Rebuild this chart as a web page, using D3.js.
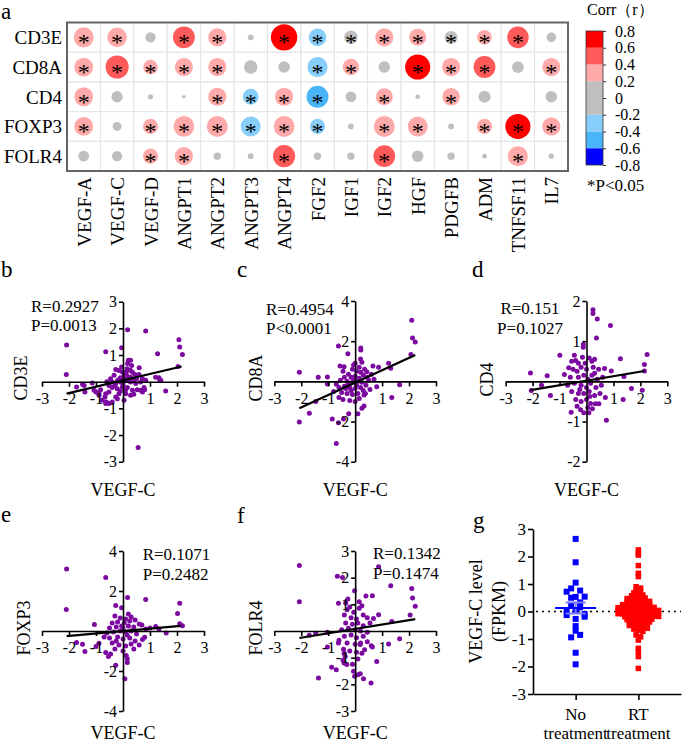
<!DOCTYPE html>
<html lang="en">
<head>
<meta charset="UTF-8">
<title>VEGF-C correlation figure</title>
<style>
  body { margin: 0; background: #fff; }
  svg text { font-family: "Liberation Serif", "Times New Roman", serif; fill: #000; }
  .ax path, .ax line { stroke: #000; stroke-width: 1.6px; }
  .ax text { font-size: 16px; font-family: "Liberation Serif", serif; }
  .leg path { stroke: none; }
  .leg line { stroke: #333; }
  .leg text { font-size: 16px; font-family: "Liberation Serif", serif; }
</style>
<script src="https://cdn.jsdelivr.net/npm/d3@7"></script>
</head>
<body>
<script>
// ---------- panel a : correlation dot-heatmap ----------
const genes = ["VEGF-A","VEGF-C","VEGF-D","ANGPT1","ANGPT2","ANGPT3","ANGPT4","FGF2","IGF1","IGF2","HGF","PDGFB","ADM","TNFSF11","IL7"];
const markers = ["CD3E","CD8A","CD4","FOXP3","FOLR4"];
const rCD3E  = [0.30, 0.2927, 0.134, 0.42, 0.27, 0.05, 0.70, -0.26, 0.19, 0.27, 0.25, 0.18, 0.21, 0.40, 0.12];
const rCD8A  = [0.28, 0.4954, 0.21, 0.27, 0.27, 0.19, 0.155, -0.31, 0.24, 0.155, 0.62, 0.27, 0.42, 0.16, 0.27];
const rCD4   = [0.28, 0.151, 0.04, 0.01, 0.27, -0.23, 0.27, -0.42, 0.14, 0.25, 0.03, 0.26, 0.165, 0.0, 0.155];
const rFOXP3 = [0.28, 0.1071, 0.22, 0.35, 0.36, -0.30, 0.36, -0.22, 0.05, 0.36, 0.30, 0.05, 0.22, 0.62, 0.27];
const rFOLR4 = [0.14, 0.1342, 0.22, 0.27, 0.08, 0.05, 0.43, 0.08, 0.08, 0.41, 0.155, 0.08, 0.03, 0.30, 0.04];
const sCD3E  = [1,1,0,1,1,0,1,1,1,1,1,1,1,1,0];
const sCD8A  = [1,1,1,1,1,0,0,1,1,0,1,1,1,0,1];
const sCD4   = [1,0,0,0,1,1,1,1,0,1,0,1,0,0,0];
const sFOXP3 = [1,0,1,1,1,1,1,1,0,1,1,0,1,1,1];
const sFOLR4 = [0,0,1,1,0,0,1,0,0,1,0,0,0,1,0];
const corrRows = [rCD3E, rCD8A, rCD4, rFOXP3, rFOLR4];
const sigRows = [sCD3E, sCD8A, sCD4, sFOXP3, sFOLR4];
const legendTicks = [-0.8,-0.6,-0.4,-0.2,0,0.2,0.4,0.6,0.8];
const bandColors = ["#0000ff","#4ab4f8","#87cefa","#bfbfbf","#bfbfbf","#ffaaaa","#ff5a5a","#ff0000"];

// ---------- panels b-f : VEGF-C vs marker (x, y) ----------
const ptsCD3E = [[-2.09,1.38],[-2.1,0.27],[0.17,1.95],[0.84,1.9],[2.07,1.57],[2.1,1.3],[2.2,1.02],[1.28,1.05],[2.04,0.57],[-0.05,1.27],[-0.64,1.12],[0.56,-2.47],[-1.72,-0.2],[-1.5,-0.1],[-1.41,-0.39],[-1.0,-0.39],[-0.89,-0.42],[-0.67,-0.57],[-0.62,-0.76],[-0.52,-0.82],[0.4,-0.47],[0.72,-0.39],[0.8,-0.3],[1.58,-0.35],[1.21,0.17],[1.36,0.07],[0.6,0.52],
  [0.2,0.8],[0.28,0.8],[0.17,0.68],[0.32,0.61],[0.15,0.49],[0.27,0.43],[-0.27,0.46],[-0.15,0.42],[-0.02,0.36],[-0.33,0.24],[0.04,0.24],[0.16,0.2],[0.28,0.17],[0.44,0.27],[0.59,0.27],[0.72,0.11],[-0.46,0.11],[-0.4,-0.01],[-0.52,-0.14],[-0.27,-0.07],[-0.09,-0.01],[0.1,0.05],[0.28,-0.01],[0.47,-0.07],[0.65,-0.01],[0.84,0.05],[-0.4,-0.22],[-0.21,-0.26],[-0.02,-0.2],[0.16,-0.22],[0.35,-0.32],[0.53,-0.3],[-0.52,-0.39],[-0.15,-0.45],[0.1,-0.45],[0.28,-0.51],[-0.21,-0.64],[0.04,-0.7],[-1.44,-0.14],[-1.14,-0.05],[-1.07,-0.32],[-0.83,-0.3],[-0.89,-0.51],[-0.64,-0.45],[-0.77,-0.7],[-0.64,-0.82],[-0.4,-0.76],[-0.27,-0.57],[0.65,-0.32],[0.78,-0.22],[1.33,0.15],[1.4,0.05],[-0.1,0.15],[0.05,0.1],[-0.2,0.05],[0.2,0.05],[0.0,-0.1],[-0.3,-0.15],[0.4,0.05],[0.1,-0.3],[-0.1,-0.35],[0.35,0.35],[-0.05,0.55],[0.5,0.12],[-0.6,0.0],[0.12,0.35]];
const ptsCD8A = [[2.1,3.04],[2.13,2.16],[2.23,1.96],[2.07,1.34],[-2.07,0.45],[-2.07,-2.02],[-1.7,-1.59],[-1.46,-1.0],[-1.37,0.2],[-1.03,0.22],[-1.03,-0.13],[-0.85,-1.88],[-0.7,-3.09],[-0.62,1.76],[-0.27,1.38],[0.21,1.66],[0.21,1.56],[-0.62,-2.06],[-0.43,-1.88],[-0.24,-1.61],[0.1,-1.61],[0.25,-1.34],[0.33,-1.23],[1.36,-0.8],[1.65,-0.17],[1.24,0.9],[1.32,0.65],[0.87,0.7],[0.66,0.76],[0.43,0.48],[0.8,-0.27],[0.33,-0.68],[0.38,-0.6],[-0.56,0.76],[-0.41,0.73],[-0.06,0.81],[0.2,1.11],
  [-0.1,0.6],[0.05,0.5],[0.2,0.45],[0.3,0.3],[-0.25,0.35],[-0.4,0.2],[-0.15,0.2],[0.0,0.25],[0.15,0.15],[0.45,0.2],[0.6,0.35],[-0.55,0.05],[-0.3,0.0],[-0.1,-0.05],[0.1,0.0],[0.25,-0.05],[0.5,0.05],[-0.6,-0.3],[-0.4,-0.25],[-0.2,-0.3],[0.0,-0.35],[0.2,-0.3],[0.4,-0.2],[-0.5,-0.55],[-0.3,-0.6],[-0.1,-0.65],[0.1,-0.6],[0.3,-0.45],[-0.45,-0.9],[-0.2,-0.95],[0.0,-1.0],[-0.6,-0.8],[0.15,-0.85],[-0.7,-0.15],[0.7,0.1],[-0.05,0.05],[-0.25,-0.15],[0.35,0.6],[-0.45,0.5],[0.05,-0.2],[-0.15,-0.45],[0.55,-0.4],[0.15,0.7],[-0.35,-0.35],[0.25,0.95],[-0.8,-0.5],[0.0,0.9]];
const ptsCD4 = [[0.24,1.78],[0.24,1.69],[0.4,1.55],[0.89,1.39],[0.37,1.08],[-0.12,0.92],[-0.12,0.85],[-0.99,0.65],[1.26,0.56],[2.25,0.67],[2.15,0.42],[2.15,0.26],[-2.08,0.21],[-2.05,-0.23],[-1.67,-0.1],[-1.46,0.14],[-1.34,-0.35],[-0.82,0.17],[-0.66,0.34],[2.07,-0.22],[1.67,-0.18],[1.36,-0.45],[1.39,0.12],[0.74,-0.97],[-0.57,-0.77],[-0.22,-0.71],[-0.1,-0.78],[0.09,-0.78],[0.33,-0.56],[0.46,-0.56],[0.67,0.32],[0.92,0.26],
  [-0.55,0.5],[-0.4,0.52],[-0.3,0.45],[0.1,0.58],[0.2,0.5],[0.3,0.55],[-0.5,0.3],[-0.35,0.25],[-0.2,0.35],[0.0,0.3],[0.25,0.35],[0.45,0.3],[-0.6,0.1],[-0.3,0.1],[-0.1,0.15],[0.05,0.05],[0.2,0.15],[0.4,0.05],[0.6,0.1],[-0.45,-0.05],[-0.2,-0.1],[0.0,-0.15],[0.15,-0.05],[0.35,-0.15],[0.55,-0.1],[-0.55,-0.25],[-0.3,-0.3],[-0.1,-0.3],[0.1,-0.25],[0.3,-0.35],[0.5,-0.3],[-0.4,-0.45],[-0.2,-0.5],[0.0,-0.45],[0.15,-0.55],[-0.35,-0.62],[0.05,-0.65],[0.22,-0.68],[-0.05,0.45],[-0.15,0.6],[0.12,-0.38],[-0.25,-0.2],[0.7,-0.4],[-0.7,-0.1],[0.3,0.2],[-0.45,0.65]];
const ptsFOXP3 = [[-2.09,3.1],[-2.1,1.08],[-0.64,2.68],[0.17,1.68],[0.84,1.57],[2.1,1.39],[2.02,0.87],[2.1,0.36],[2.2,0.26],[-1.06,0.32],[-1.72,-0.58],[-1.5,-0.66],[-1.41,-1.03],[-1.0,-0.78],[-0.89,-0.61],[-0.64,-1.07],[-0.54,-1.28],[-0.46,-1.15],[-0.27,-1.71],[0.16,-1.39],[0.16,-1.58],[0.12,-1.23],[0.07,-2.39],[0.4,-0.9],[0.72,-0.42],[0.8,-0.31],[1.21,0.23],[1.33,0.1],[1.6,-0.1],[-0.27,1.28],[-0.05,1.16],[-0.3,0.75],
  [0.2,0.85],[0.3,0.7],[0.1,0.6],[-0.1,0.65],[-0.4,0.4],[-0.2,0.45],[0.05,0.4],[0.25,0.5],[0.45,0.55],[0.6,0.35],[-0.5,0.15],[-0.25,0.2],[0.0,0.15],[0.2,0.25],[0.4,0.2],[0.7,0.3],[-0.6,-0.1],[-0.35,-0.05],[-0.1,0.0],[0.1,-0.05],[0.3,0.0],[0.5,-0.15],[-0.5,-0.35],[-0.2,-0.3],[0.0,-0.4],[0.25,-0.35],[0.45,-0.5],[-0.4,-0.6],[-0.15,-0.7],[0.1,-0.75],[0.3,-0.65],[-0.3,-0.9],[0.0,-1.0],[0.6,-0.7],[-0.7,-0.3],[0.85,0.1],[1.0,0.15],[-0.05,0.25],[0.15,-0.2],[-0.25,-0.5]];
const ptsFOLR4 = [[-2.07,2.46],[-2.07,1.1],[-0.66,2.05],[-0.47,2.01],[0.87,2.41],[1.32,1.7],[2.1,1.59],[2.13,1.24],[2.23,0.93],[2.04,0.6],[1.36,0.36],[-0.02,1.51],[-0.62,1.04],[-0.27,1.2],[0.4,1.31],[0.64,1.32],[0.68,0.47],[0.87,0.61],[-1.7,-0.16],[-1.46,-0.08],[-1.03,-0.05],[-1.03,-0.6],[-1.36,-1.76],[-0.87,-1.36],[-0.7,-1.45],[-0.41,-1.2],[-0.31,-1.26],[-0.06,-1.51],[-0.02,-1.7],[0.1,-1.64],[0.19,-1.6],[0.31,-1.79],[0.59,-1.95],[0.8,-1.14],[0.64,-0.6],[1.24,-0.49],[1.65,-0.29],[-0.62,-0.45],[-0.6,-0.35],[-0.43,-0.68],[-0.41,-0.83],[-0.37,-0.95],[0.19,-0.51],[0.25,-0.83],
  [-0.3,0.8],[-0.2,0.9],[-0.05,0.7],[0.15,0.85],[0.25,0.95],[-0.4,0.6],[-0.15,0.5],[0.05,0.45],[0.3,0.6],[0.45,0.5],[-0.35,0.3],[-0.1,0.25],[0.1,0.3],[0.3,0.2],[0.55,0.3],[-0.5,0.05],[-0.25,0.1],[0.0,0.05],[0.2,0.0],[0.45,-0.05],[-0.4,-0.2],[-0.15,-0.15],[0.05,-0.25],[0.3,-0.2],[-0.3,-0.45],[0.0,-0.5],[0.2,-0.45],[0.45,-0.4],[-0.2,-0.75],[0.05,-0.8],[0.35,-0.7],[-0.45,-1.1],[0.1,-1.05],[-0.1,-1.25],[0.15,1.1],[-0.35,1.05],[0.6,-0.55]];

// ---------- panel g : VEGF-C level by group ----------
const groups = ["No treatment", "RT treatment"];
const vegfNo = [2.64,1.79,1.05,0.84,0.76,0.72,0.53,0.54,0.5,0.33,0.24,0.15,0.05,0.03,-0.13,-0.09,-0.27,-0.19,-0.53,-0.7,-0.94,-0.85,-1.5,-1.92];
const vegfRT = [2.24,2.12,2.05,1.67,1.39,1.27,0.9,0.85,0.78,-0.85,-0.92,-1.04,-1.34,-1.46,-1.64,-2.07,
  0.72,0.68,0.63,0.6,0.57,0.53,0.51,0.49,0.47,0.44,0.42,0.4,0.39,0.37,0.34,0.33,0.31,0.3,0.28,0.27,
  0.25,0.23,0.22,0.21,0.2,0.18,0.17,0.15,0.14,0.13,0.12,0.11,0.1,0.09,0.07,0.06,
  0.05,0.04,0.03,0.02,0.01,0.0,-0.01,-0.02,-0.03,-0.04,-0.06,-0.07,-0.08,-0.09,-0.1,-0.11,-0.12,-0.13,-0.14,
  -0.16,-0.17,-0.18,-0.19,-0.2,-0.22,-0.23,-0.25,-0.27,-0.28,-0.3,-0.31,-0.32,-0.34,-0.35,
  -0.38,-0.4,-0.42,-0.44,-0.46,-0.49,-0.51,-0.53,-0.55,-0.58,-0.61,-0.64,-0.68,-0.72];

const svg = d3.select("body").append("svg").attr("width", 685).attr("height", 742);

function letter(t, x, y) {
  svg.append("text").text(t).attr("x", x).attr("y", y).style("font-size", "23px");
}

// ===== panel a =====
const hx = d3.scaleBand().domain(genes).range([67, 568]);
const hy = d3.scaleBand().domain(markers).range([22.5, 171]);
const color = d3.scaleThreshold().domain([-0.6,-0.4,-0.2,0.2,0.4,0.6])
  .range(["#0000ff","#4ab4f8","#87cefa","#bfbfbf","#ffaaaa","#ff5a5a","#ff0000"]);
const rad = d3.scaleLinear().domain([0, 0.2, 0.3, 0.8]).range([1.5, 7, 10, 14]).clamp(true);

const cells = [];
markers.forEach((m, i) => genes.forEach((g, j) =>
  cells.push({ m, g, r: corrRows[i][j], s: sigRows[i][j] })));

const ha = svg.append("g");
ha.selectAll("rect.cell").data(cells).join("rect").attr("class", "cell")
  .attr("x", d => hx(d.g)).attr("y", d => hy(d.m))
  .attr("width", hx.bandwidth()).attr("height", hy.bandwidth())
  .attr("fill", "none").attr("stroke", "#e6e6e6").attr("stroke-width", 1);
ha.selectAll("circle").data(cells.filter(d => Math.abs(d.r) > 0.005)).join("circle")
  .attr("cx", d => hx(d.g) + hx.bandwidth() / 2).attr("cy", d => hy(d.m) + hy.bandwidth() / 2)
  .attr("r", d => rad(Math.abs(d.r))).attr("fill", d => color(d.r));
ha.selectAll("text.star").data(cells.filter(d => d.s)).join("text").attr("class", "star")
  .attr("x", d => hx(d.g) + hx.bandwidth() / 2).attr("y", d => hy(d.m) + hy.bandwidth() / 2 + 13)
  .attr("text-anchor", "middle").style("font-size", "24px").text("*");
ha.append("rect").attr("x", 67).attr("y", 22.5).attr("width", 501).attr("height", 148.5)
  .attr("fill", "none").attr("stroke", "#666").attr("stroke-width", 2);
ha.selectAll("text.row").data(markers).join("text").attr("class", "row")
  .attr("x", 62).attr("y", d => hy(d) + hy.bandwidth() / 2 + 7)
  .attr("text-anchor", "end").style("font-size", "19px").text(d => d);
ha.selectAll("text.col").data(genes).join("text").attr("class", "col")
  .attr("transform", d => `translate(${hx(d) + hx.bandwidth() / 2 + 7},177) rotate(-90)`)
  .attr("text-anchor", "end").style("font-size", "19px").text(d => d);

// legend
const ly = d3.scaleLinear().domain([-0.8, 0.8]).range([165, 31]);
const lg = svg.append("g");
lg.selectAll("rect").data(d3.pairs(legendTicks)).join("rect")
  .attr("x", 586).attr("width", 17)
  .attr("y", d => ly(d[1])).attr("height", d => ly(d[0]) - ly(d[1]))
  .attr("fill", (d, i) => bandColors[i]);
lg.append("rect").attr("x", 586).attr("y", 31).attr("width", 17).attr("height", 134)
  .attr("fill", "none").attr("stroke", "#333").attr("stroke-width", 0.8);
lg.append("g").attr("class", "leg").attr("transform", "translate(603,0)")
  .call(d3.axisRight(ly).tickValues(legendTicks).tickSize(3).tickPadding(9).tickFormat(String));
svg.append("text").attr("x", 587).attr("y", 15).style("font-size", "16px").text("Corr（r）");
svg.append("text").attr("x", 587).attr("y", 191).style("font-size", "17px").text("*P<0.05");
letter("a", 1, 19);

// ===== panels b-f =====
const purple = "#7d0aa0";
function scatter(p) {
  const x = d3.scaleLinear().domain([-3, 3]).range(p.xr);
  const y = d3.scaleLinear().domain(p.yd).range(p.yr);
  const g = svg.append("g");
  g.selectAll("circle").data(p.pts).join("circle")
    .attr("cx", d => x(d[0])).attr("cy", d => y(d[1])).attr("r", 2.5).attr("fill", purple);
  g.append("g").attr("class", "ax").attr("transform", `translate(0,${y(0)})`)
    .call(d3.axisBottom(x).tickValues([-3,-2,-1,1,2,3]).tickSizeInner(5).tickSizeOuter(0).tickPadding(6).tickFormat(String));
  g.append("g").attr("class", "ax").attr("transform", `translate(${x(0)},0)`)
    .call(d3.axisLeft(y).tickValues(p.yt).tickSizeInner(4).tickSizeOuter(0).tickPadding(2).tickFormat(String));
  const f = p.fit;
  g.append("line")
    .attr("x1", x(f[0])).attr("y1", y(f[2] * f[0] + f[3]))
    .attr("x2", x(f[1])).attr("y2", y(f[2] * f[1] + f[3]))
    .attr("stroke", "#000").attr("stroke-width", 2.2);
  g.selectAll("text.st").data(p.stats).join("text").attr("class", "st")
    .attr("x", p.sx).attr("y", (d, i) => p.sy + i * 19.5).attr("text-anchor", p.sa || "start")
    .style("font-size", "17px").text(d => d);
  g.append("text").attr("x", x(0)).attr("y", p.xly).attr("text-anchor", "middle")
    .style("font-size", "18px").text("VEGF-C");
  g.append("text").attr("transform", `translate(${p.ylx},${p.yly}) rotate(-90)`)
    .attr("text-anchor", "middle").style("font-size", "18px").text(p.ylab);
}

scatter({ pts: ptsCD3E, xr: [42, 204], yd: [-3, 3], yr: [461.7, 301.7], yt: [-3,-2,-1,1,2,3],
  fit: [-2.09, 2.17, 0.239, 0.05], stats: ["R=0.2927", "P=0.0013"], sx: 31, sy: 311.5,
  xly: 496, ylx: 27, yly: 378, ylab: "CD3E" });
scatter({ pts: ptsCD8A, xr: [274.3, 436], yd: [-4, 4], yr: [461.7, 301], yt: [-4,-2,2,4],
  fit: [-2.07, 2.23, 0.616, -0.06], stats: ["R=0.4954", "P<0.0001"], sx: 266, sy: 314.5,
  xly: 496, ylx: 261.5, yly: 378, ylab: "CD8A" });
scatter({ pts: ptsCD4, xr: [505.7, 667.3], yd: [-2, 2], yr: [461.7, 301], yt: [-2,-1,1,2],
  fit: [-2.08, 2.15, 0.113, 0.015], stats: ["R=0.151", "P=0.1027"], sx: 530, sy: 314, sa: "middle",
  xly: 496, ylx: 493, yly: 379.5, ylab: "CD4" });
scatter({ pts: ptsFOXP3, xr: [42, 204], yd: [-4, 4], yr: [711, 551], yt: [-4,-2,2,4],
  fit: [-2.09, 2.14, 0.122, -0.005], stats: ["R=0.1071", "P=0.2482"], sx: 142.7, sy: 560,
  xly: 739, ylx: 30, yly: 628, ylab: "FOXP3" });
scatter({ pts: ptsFOLR4, xr: [274.3, 436], yd: [-3, 3], yr: [711, 551], yt: [-3,-2,-1,1,2,3],
  fit: [-2.07, 2.23, 0.165, 0.08], stats: ["R=0.1342", "P=0.1474"], sx: 373, sy: 559,
  xly: 739, ylx: 261.5, yly: 628, ylab: "FOLR4" });

letter("b", 1, 277); letter("c", 237, 277); letter("d", 472, 277);
letter("e", 1, 522); letter("f", 237, 523);

// ===== panel g =====
const gy = d3.scaleLinear().domain([-3, 3]).range([694, 529]);
const gx = d3.scalePoint().domain(groups).range([533, 681]).padding(0.68);
const gg = svg.append("g");

function swarm(vals, cx, rowPx, step) {
  const rows = d3.group(vals, v => Math.round(gy(v) / rowPx));
  const out = [];
  for (const items of rows.values())
    items.forEach((v, i) => out.push({ v, x: cx + (i - (items.length - 1) / 2) * step }));
  return out;
}

gg.append("line").attr("x1", 536).attr("x2", 681).attr("y1", gy(0)).attr("y2", gy(0))
  .attr("stroke", "#000").attr("stroke-width", 1.6).attr("stroke-dasharray", "2,4");

const series = [
  { vals: vegfNo, c: "#0000ff", light: "#7b7bff", cx: gx(groups[0]), size: 6, row: 6, step: 9 },
  { vals: vegfRT, c: "#ff0000", light: "#ff0000", cx: gx(groups[1]), size: 5.5, row: 3, step: 4.5 }
];
series.forEach(s => {
  gg.append("g").selectAll("rect").data(swarm(s.vals, s.cx, s.row, s.step)).join("rect")
    .attr("x", d => d.x - s.size / 2).attr("y", d => gy(d.v) - s.size / 2)
    .attr("width", s.size).attr("height", s.size).attr("fill", s.c);
  const m = d3.mean(s.vals), sem = d3.deviation(s.vals) / Math.sqrt(s.vals.length);
  gg.append("line").attr("x1", s.cx).attr("x2", s.cx).attr("y1", gy(m + sem)).attr("y2", gy(m - sem))
    .attr("stroke", s.light).attr("stroke-width", 2);
  [m + sem, m - sem].forEach(v => gg.append("line").attr("x1", s.cx - 10).attr("x2", s.cx + 10)
    .attr("y1", gy(v)).attr("y2", gy(v)).attr("stroke", s.light).attr("stroke-width", 2));
  gg.append("line").attr("x1", s.cx - 20.5).attr("x2", s.cx + 20.5).attr("y1", gy(m)).attr("y2", gy(m))
    .attr("stroke", s.c).attr("stroke-width", 2);
});

gg.append("g").attr("class", "ax").attr("transform", "translate(533,0)")
  .call(d3.axisLeft(gy).tickValues([-3,-2,-1,0,1,2,3]).tickSizeInner(5).tickSizeOuter(0).tickPadding(2).tickFormat(String))
  .selectAll("text").style("font-size", "17px");
gg.append("g").attr("class", "ax").attr("transform", "translate(0,694)")
  .call(d3.axisBottom(gx).tickSizeInner(6).tickSizeOuter(0).tickFormat(""));
gg.selectAll("text.cat").data(groups).join("text").attr("class", "cat")
  .attr("x", d => gx(d)).attr("y", 720).attr("text-anchor", "middle").style("font-size", "17px")
  .selectAll("tspan").data(d => d.split(" ")).join("tspan")
  .attr("x", function () { return d3.select(this.parentNode).attr("x"); })
  .attr("dy", (d, i) => i ? 18.5 : 0).text(d => d);
gg.append("text").attr("transform", "translate(481.5,611.5) rotate(-90)").attr("text-anchor", "middle")
  .style("font-size", "18px").text("VEGF-C level");
gg.append("text").attr("transform", "translate(505,611.5) rotate(-90)").attr("text-anchor", "middle")
  .style("font-size", "18px").text("(FPKM)");
letter("g", 473, 528);
</script>
</body>
</html>
